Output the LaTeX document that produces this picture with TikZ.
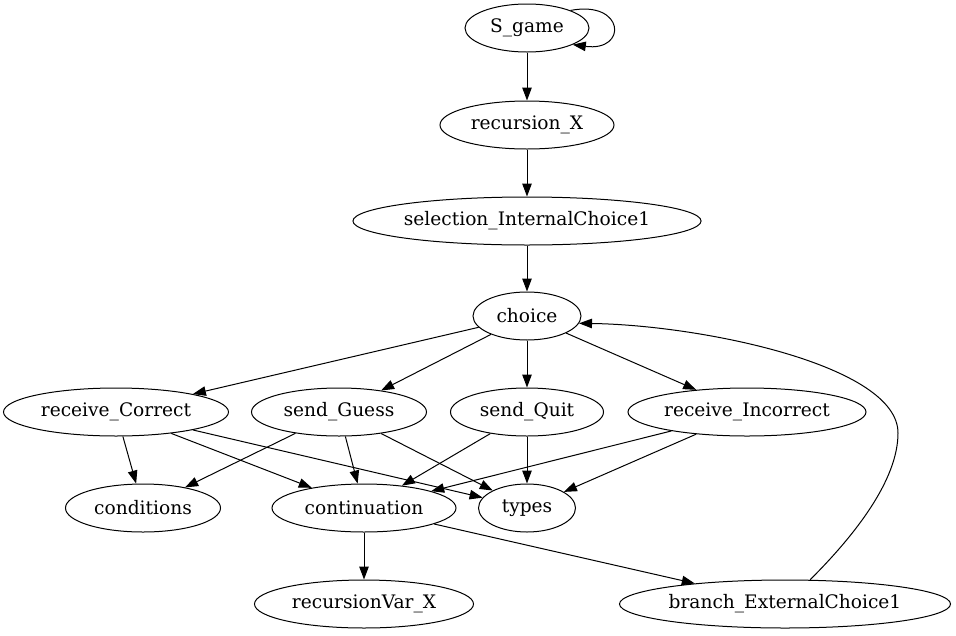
\documentclass[tikz,border=0pt]{standalone}
\usepackage{fontspec}
\setmainfont{DejaVu Serif}
\usetikzlibrary{arrows.meta,shapes.geometric}
\begin{document}
\begin{tikzpicture}[x=1pt,y=-1pt,
  gv/.style={ellipse,draw,line width=1pt,inner sep=0pt,minimum height=48pt,font=\fontsize{18.6}{20}\selectfont},
  arr/.style={line width=1pt,-{Triangle[length=13pt,width=9.5pt]}}]
\useasboundingbox (0,0) rectangle (956,635);
\node[gv,minimum width=124pt] (sg) at (527,28) {S\_game};
\node[gv,minimum width=174pt] (rx) at (527,125) {recursion\_X};
\node[gv,minimum width=348pt] (sel) at (527,221) {selection\_InternalChoice1};
\node[gv,minimum width=108pt] (ch) at (527,316) {choice};
\node[gv,minimum width=225pt] (rc) at (116,412) {receive\_Correct};
\node[gv,minimum width=175pt] (sgu) at (339,412) {send\_Guess};
\node[gv,minimum width=153pt] (sq) at (527,412) {send\_Quit};
\node[gv,minimum width=238pt] (ri) at (747,412) {receive\_Incorrect};
\node[gv,minimum width=155pt] (cond) at (143,508) {conditions};
\node[gv,minimum width=184pt] (cont) at (364,508) {continuation};
\node[gv,minimum width=97pt] (ty) at (527,508) {types};
\node[gv,minimum width=219pt] (rv) at (364,604) {recursionVar\_X};
\node[gv,minimum width=331pt] (br) at (785,604) {branch\_ExternalChoice1};
\draw[arr] (sg.22) .. controls (625,0) and (628,52) .. (sg.-20);
\draw[arr] (sg) -- (rx);
\draw[arr] (rx) -- (sel);
\draw[arr] (sel) -- (ch);
\draw[arr] (ch) -- (rc);
\draw[arr] (ch) -- (sgu);
\draw[arr] (ch) -- (sq);
\draw[arr] (ch) -- (ri);
\draw[arr] (rc) -- (cond);
\draw[arr] (rc) -- (cont);
\draw[arr] (rc) -- (ty);
\draw[arr] (sgu) -- (cond);
\draw[arr] (sgu) -- (cont);
\draw[arr] (sgu) -- (ty);
\draw[arr] (sq) -- (cont);
\draw[arr] (sq) -- (ty);
\draw[arr] (ri) -- (cont);
\draw[arr] (ri) -- (ty);
\draw[arr] (cont) -- (rv);
\draw[arr] (cont) -- (br);
\coordinate (c1) at (898,433);
\draw[arr] (br.44) .. controls (855,535) and (898,480) .. (c1) .. controls (898,365) and (700,325) .. (ch.-8);
\end{tikzpicture}
\end{document}
